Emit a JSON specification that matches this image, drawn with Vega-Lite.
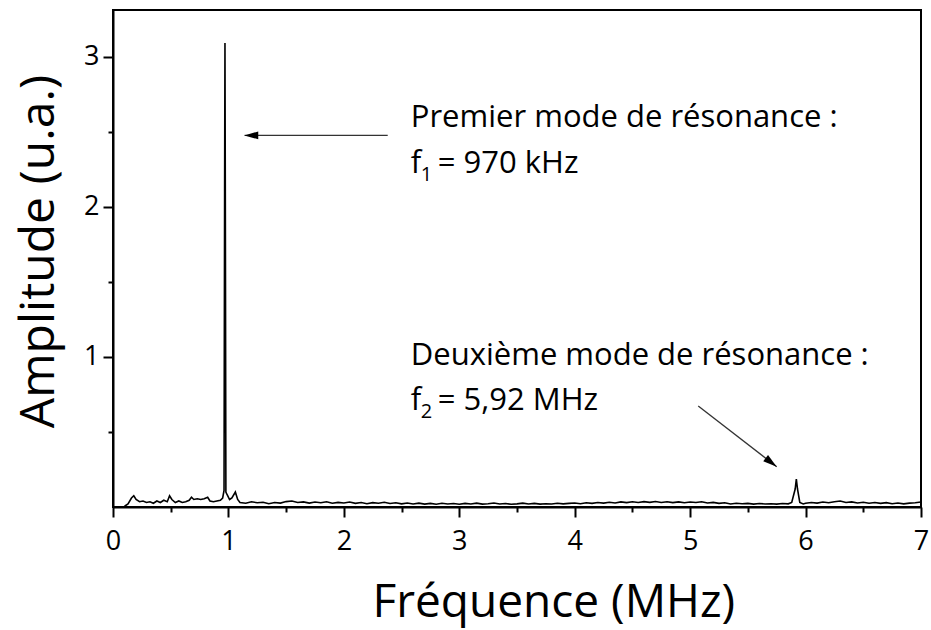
{
  "$schema": "https://vega.github.io/schema/vega-lite/v6.json",
  "width": 808,
  "height": 497,
  "autosize": "none",
  "padding": {"left": 113, "top": 10, "right": 10, "bottom": 123},
  "background": "white",
  "config": {"view": {"stroke": "black", "strokeWidth": 2}, "font": "Open Sans"},
  "layer": [
    {
      "data": {"values": [
        {"f":0.10,"a":0.005},{"f":0.13,"a":0.02},{"f":0.16,"a":0.06},{"f":0.18,"a":0.075},{"f":0.20,"a":0.05},{"f":0.23,"a":0.035},{"f":0.26,"a":0.04},{"f":0.29,"a":0.03},{"f":0.32,"a":0.035},{"f":0.35,"a":0.025},{"f":0.38,"a":0.04},{"f":0.41,"a":0.03},{"f":0.44,"a":0.045},{"f":0.47,"a":0.035},{"f":0.49,"a":0.075},{"f":0.51,"a":0.05},{"f":0.54,"a":0.03},{"f":0.57,"a":0.04},{"f":0.60,"a":0.03},{"f":0.63,"a":0.035},{"f":0.66,"a":0.045},{"f":0.68,"a":0.065},{"f":0.70,"a":0.05},{"f":0.73,"a":0.055},{"f":0.76,"a":0.05},{"f":0.79,"a":0.055},{"f":0.82,"a":0.065},{"f":0.84,"a":0.04},{"f":0.87,"a":0.035},{"f":0.90,"a":0.04},{"f":0.93,"a":0.045},{"f":0.95,"a":0.06},{"f":0.962,"a":0.11},{"f":0.967,"a":2.1},{"f":0.970,"a":3.09},{"f":0.973,"a":2.1},{"f":0.978,"a":0.1},{"f":0.99,"a":0.08},{"f":1.01,"a":0.05},{"f":1.03,"a":0.06},{"f":1.06,"a":0.1},{"f":1.08,"a":0.05},
        {"f":1.10,"a":0.03},{"f":1.15,"a":0.025},{"f":1.20,"a":0.035},{"f":1.25,"a":0.028},{"f":1.30,"a":0.032},{"f":1.35,"a":0.022},{"f":1.40,"a":0.03},{"f":1.45,"a":0.026},{"f":1.50,"a":0.036},{"f":1.55,"a":0.04},{"f":1.60,"a":0.03},{"f":1.65,"a":0.034},{"f":1.70,"a":0.026},{"f":1.75,"a":0.033},{"f":1.80,"a":0.028},{"f":1.85,"a":0.035},{"f":1.90,"a":0.025},{"f":1.95,"a":0.031},{"f":2.00,"a":0.027},{"f":2.05,"a":0.033},{"f":2.10,"a":0.024},{"f":2.15,"a":0.03},{"f":2.20,"a":0.022},{"f":2.25,"a":0.029},{"f":2.30,"a":0.025},{"f":2.35,"a":0.032},{"f":2.40,"a":0.023},{"f":2.45,"a":0.028},{"f":2.50,"a":0.021},{"f":2.55,"a":0.027},{"f":2.60,"a":0.02},{"f":2.65,"a":0.026},{"f":2.70,"a":0.019},{"f":2.75,"a":0.024},{"f":2.80,"a":0.018},{"f":2.85,"a":0.025},{"f":2.90,"a":0.02},{"f":2.95,"a":0.023},{"f":3.00,"a":0.018},{"f":3.05,"a":0.024},{"f":3.10,"a":0.02},{"f":3.15,"a":0.026},{"f":3.20,"a":0.019},{"f":3.25,"a":0.022},{"f":3.30,"a":0.027},{"f":3.35,"a":0.02},{"f":3.40,"a":0.023},{"f":3.45,"a":0.018},{"f":3.50,"a":0.021},{"f":3.55,"a":0.026},{"f":3.60,"a":0.02},{"f":3.65,"a":0.024},{"f":3.70,"a":0.019},{"f":3.75,"a":0.022},{"f":3.80,"a":0.02},{"f":3.85,"a":0.025},{"f":3.90,"a":0.021},{"f":3.95,"a":0.024},{"f":4.00,"a":0.027},{"f":4.05,"a":0.022},{"f":4.10,"a":0.028},{"f":4.15,"a":0.024},{"f":4.20,"a":0.03},{"f":4.25,"a":0.026},{"f":4.30,"a":0.032},{"f":4.35,"a":0.027},{"f":4.40,"a":0.034},{"f":4.45,"a":0.029},{"f":4.50,"a":0.035},{"f":4.55,"a":0.03},{"f":4.60,"a":0.036},{"f":4.65,"a":0.031},{"f":4.70,"a":0.037},{"f":4.75,"a":0.03},{"f":4.80,"a":0.035},{"f":4.85,"a":0.029},{"f":4.90,"a":0.034},{"f":4.95,"a":0.028},{"f":5.00,"a":0.033},{"f":5.05,"a":0.03},{"f":5.10,"a":0.035},{"f":5.15,"a":0.027},{"f":5.20,"a":0.031},{"f":5.25,"a":0.024},{"f":5.30,"a":0.028},{"f":5.35,"a":0.02},{"f":5.40,"a":0.025},{"f":5.45,"a":0.022},{"f":5.50,"a":0.024},{"f":5.55,"a":0.019},{"f":5.60,"a":0.023},{"f":5.65,"a":0.02},{"f":5.70,"a":0.022},{"f":5.75,"a":0.019},{"f":5.80,"a":0.023},{"f":5.85,"a":0.021},{"f":5.88,"a":0.03},{"f":5.91,"a":0.12},{"f":5.92,"a":0.186},{"f":5.93,"a":0.12},{"f":5.95,"a":0.03},{"f":5.98,"a":0.02},{"f":6.00,"a":0.025},{"f":6.05,"a":0.03},{"f":6.10,"a":0.026},{"f":6.15,"a":0.033},{"f":6.20,"a":0.028},{"f":6.25,"a":0.035},{"f":6.30,"a":0.04},{"f":6.35,"a":0.03},{"f":6.40,"a":0.034},{"f":6.45,"a":0.027},{"f":6.50,"a":0.032},{"f":6.55,"a":0.025},{"f":6.60,"a":0.03},{"f":6.65,"a":0.024},{"f":6.70,"a":0.029},{"f":6.75,"a":0.022},{"f":6.80,"a":0.027},{"f":6.85,"a":0.021},{"f":6.90,"a":0.026},{"f":6.95,"a":0.028},{"f":7.00,"a":0.033}
      ]},
      "mark": {"type": "line", "color": "black", "strokeWidth": 1.6, "clip": true},
      "encoding": {
        "x": {"field": "f", "type": "quantitative",
          "scale": {"domain": [0, 7], "nice": false, "zero": false},
          "axis": {
            "values": [0,0.5,1,1.5,2,2.5,3,3.5,4,4.5,5,5.5,6,6.5,7],
            "labelExpr": "datum.value % 1 === 0 ? format(datum.value, 'd') : ''",
            "tickSize": {"condition": {"test": "datum.value % 1 === 0", "value": 10}, "value": 5},
            "tickWidth": 2, "tickColor": "black",
            "domainColor": "black", "domainWidth": 2,
            "grid": false,
            "labelFont": "Open Sans", "labelFontSize": 27, "labelColor": "black",
            "labelBaseline": "alphabetic", "labelPadding": 32,
            "labelFlush": false, "labelOverlap": false,
            "title": "Fréquence (MHz)",
            "titleFont": "Open Sans", "titleFontSize": 46, "titleFontWeight": "normal", "titleColor": "black",
            "titleX": 259, "titleY": 109, "titleAlign": "left", "titleBaseline": "alphabetic"
          }},
        "y": {"field": "a", "type": "quantitative",
          "scale": {"domain": [0, 3.31], "nice": false},
          "axis": {
            "values": [0.5,1,1.5,2,2.5,3],
            "labelExpr": "datum.value % 1 === 0 ? format(datum.value, 'd') : ''",
            "tickSize": {"condition": {"test": "datum.value % 1 === 0", "value": 10}, "value": 5},
            "tickWidth": 2, "tickColor": "black",
            "domainColor": "black", "domainWidth": 2,
            "grid": false,
            "labelFont": "Open Sans", "labelFontSize": 27, "labelColor": "black",
            "labelPadding": 4, "labelAlign": "right", "labelBaseline": "middle",
            "labelFlush": false, "labelOverlap": false,
            "title": "Amplitude (u.a.)",
            "titleFont": "Open Sans", "titleFontSize": 48, "titleFontWeight": "normal", "titleColor": "black",
            "titleAngle": 270, "titleX": -60, "titleY": 241, "titleAlign": "center", "titleBaseline": "alphabetic"
          }}
      }
    },
    {
      "data": {"values": [
        {"f": 2.38, "a": 2.475, "f2": 1.14, "a2": 2.475},
        {"f": 5.07, "a": 0.672, "f2": 5.75, "a2": 0.268}
      ]},
      "mark": {"type": "rule", "color": "#333333", "strokeWidth": 1.3},
      "encoding": {
        "x": {"field": "f", "type": "quantitative"},
        "y": {"field": "a", "type": "quantitative"},
        "x2": {"field": "f2"},
        "y2": {"field": "a2"}
      }
    },
    {
      "data": {"values": [{"f": 1.137, "a": 2.475}]},
      "mark": {"type": "point", "shape": "M0,0L-1,-0.28L-1,0.28Z", "filled": true, "color": "black", "opacity": 1, "size": 784, "angle": 180},
      "encoding": {
        "x": {"field": "f", "type": "quantitative"},
        "y": {"field": "a", "type": "quantitative"}
      }
    },
    {
      "data": {"values": [{"f": 5.75, "a": 0.268}]},
      "mark": {"type": "point", "shape": "M0,0L-1,-0.28L-1,0.28Z", "filled": true, "color": "black", "opacity": 1, "size": 784, "angle": 37.7},
      "encoding": {
        "x": {"field": "f", "type": "quantitative"},
        "y": {"field": "a", "type": "quantitative"}
      }
    },
    {
      "data": {"values": [
        {"f": 2.58, "a": 2.53, "t": "Premier mode de résonance :"},
        {"f": 2.58, "a": 0.945, "t": "Deuxième mode de résonance :"}
      ]},
      "mark": {"type": "text", "align": "left", "baseline": "alphabetic", "font": "Open Sans", "fontSize": 31, "color": "black"},
      "encoding": {
        "x": {"field": "f", "type": "quantitative"},
        "y": {"field": "a", "type": "quantitative"},
        "text": {"field": "t"}
      }
    },
    {
      "data": {"values": [
        {"f": 2.58, "a": 2.225, "t": "f"},
        {"f": 2.58, "a": 0.645, "t": "f"}
      ]},
      "mark": {"type": "text", "align": "left", "baseline": "alphabetic", "font": "Open Sans", "fontSize": 31, "color": "black"},
      "encoding": {
        "x": {"field": "f", "type": "quantitative"},
        "y": {"field": "a", "type": "quantitative"},
        "text": {"field": "t"}
      }
    },
    {
      "data": {"values": [
        {"f": 2.58, "a": 2.225, "t": "1"},
        {"f": 2.58, "a": 0.645, "t": "2"}
      ]},
      "mark": {"type": "text", "align": "left", "baseline": "alphabetic", "font": "Open Sans", "fontSize": 20, "color": "black", "dx": 10, "dy": 8},
      "encoding": {
        "x": {"field": "f", "type": "quantitative"},
        "y": {"field": "a", "type": "quantitative"},
        "text": {"field": "t"}
      }
    },
    {
      "data": {"values": [
        {"f": 2.58, "a": 2.225, "t": "= 970 kHz"},
        {"f": 2.58, "a": 0.645, "t": "= 5,92 MHz"}
      ]},
      "mark": {"type": "text", "align": "left", "baseline": "alphabetic", "font": "Open Sans", "fontSize": 31, "color": "black", "dx": 27},
      "encoding": {
        "x": {"field": "f", "type": "quantitative"},
        "y": {"field": "a", "type": "quantitative"},
        "text": {"field": "t"}
      }
    }
  ]
}
